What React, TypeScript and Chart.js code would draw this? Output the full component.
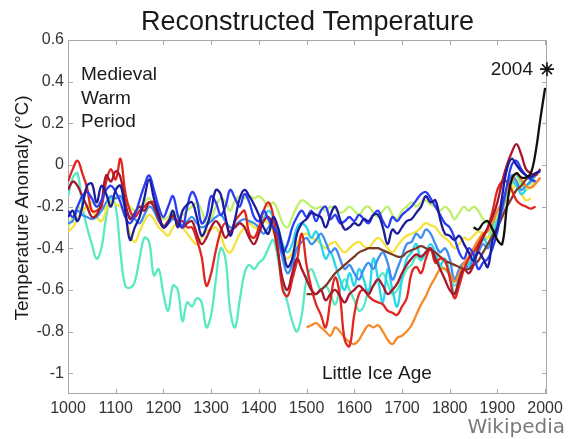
import React, { useEffect, useRef } from "react";
import { Chart, registerables } from "chart.js";

Chart.register(...registerables);

// ---- tick labels ----
const X_TICKS = [1000, 1100, 1200, 1300, 1400, 1500, 1600, 1700, 1800, 1900, 2000];
const Y_TICKS = [0.6, 0.4, 0.2, 0, -0.2, -0.4, -0.6, -0.8, -1];

// ---- series (values every 10 years from the given start year) ----
const NAVY_START = 1000;
const NAVY = [-0.25, -0.22, -0.27, -0.2, -0.1, -0.09, -0.18, -0.1, -0.14, -0.2, -0.12, -0.1, -0.22, -0.36, -0.3, -0.25, -0.16, -0.07, -0.16, -0.24,
  -0.3, -0.28, -0.22, -0.3, -0.22, -0.19, -0.18, -0.25, -0.34, -0.3, -0.22, -0.12, -0.14, -0.25, -0.34, -0.26, -0.16, -0.12, -0.15, -0.19,
  -0.24, -0.3, -0.33, -0.25, -0.3, -0.4, -0.49, -0.45, -0.33, -0.28, -0.26, -0.23, -0.24, -0.25, -0.3, -0.24, -0.2, -0.26, -0.31, -0.3,
  -0.28, -0.29, -0.26, -0.27, -0.24, -0.24, -0.3, -0.38, -0.31, -0.33, -0.3, -0.27, -0.26, -0.23, -0.2, -0.15, -0.18, -0.17, -0.26, -0.33,
  -0.34, -0.36, -0.34, -0.38, -0.42, -0.46, -0.42, -0.45, -0.49, -0.36, -0.3, -0.15, -0.02, 0.03, 0.0, -0.03, -0.05, -0.06, -0.04, -0.03];

const BLUE_START = 1000;
const BLUE = [-0.22, -0.25, -0.2, -0.15, -0.13, -0.16, -0.2, -0.17, -0.12, -0.1, -0.13, -0.18, -0.25, -0.28, -0.24, -0.17, -0.1, -0.05, -0.12, -0.2,
  -0.25, -0.2, -0.15, -0.24, -0.3, -0.2, -0.13, -0.17, -0.28, -0.25, -0.15, -0.18, -0.24, -0.2, -0.12, -0.16, -0.2, -0.14, -0.18, -0.25,
  -0.27, -0.22, -0.26, -0.3, -0.33, -0.42, -0.38, -0.3, -0.25, -0.22, -0.25, -0.22, -0.27, -0.22, -0.2, -0.26, -0.24, -0.28, -0.27, -0.25,
  -0.27, -0.24, -0.26, -0.28, -0.24, -0.22, -0.27, -0.3, -0.25, -0.27, -0.24, -0.22, -0.2, -0.17, -0.14, -0.13, -0.16, -0.2, -0.24, -0.28,
  -0.3, -0.35, -0.42, -0.45, -0.4, -0.43, -0.5, -0.47, -0.45, -0.4, -0.32, -0.2, -0.1, 0.0, 0.02, -0.02, -0.05, -0.07, -0.08];

const LIGHTBLUE_START = 1000;
const LIGHTBLUE = [-0.28, -0.27, -0.22, -0.24, -0.25, -0.26, -0.25, -0.22, -0.18, -0.15, -0.16, -0.15, -0.2, -0.25, -0.26, -0.28, -0.24, -0.2, -0.22, -0.27,
  -0.29, -0.28, -0.26, -0.27, -0.29, -0.27, -0.25, -0.28, -0.3, -0.29, -0.27, -0.25, -0.24, -0.27, -0.3, -0.29, -0.27, -0.26, -0.27, -0.28,
  -0.3, -0.33, -0.3, -0.27, -0.35, -0.45, -0.52, -0.48, -0.4, -0.37, -0.35, -0.38, -0.36, -0.33, -0.37, -0.42, -0.4, -0.45, -0.5, -0.48,
  -0.52, -0.55, -0.5, -0.47, -0.5, -0.45, -0.42, -0.47, -0.55, -0.5, -0.44, -0.38, -0.37, -0.33, -0.35, -0.31, -0.33, -0.38, -0.42, -0.4,
  -0.45, -0.55, -0.5, -0.47, -0.5, -0.45, -0.42, -0.38, -0.4, -0.35, -0.3, -0.22, -0.12, -0.05, -0.08, -0.12, -0.1, -0.08, -0.05, -0.02];

const CYAN_START = 1400;
const CYAN = [-0.3, -0.26, -0.22, -0.25, -0.3, -0.38, -0.42, -0.38, -0.3, -0.28, -0.3, -0.35, -0.32, -0.38, -0.45, -0.42, -0.48, -0.55, -0.6, -0.52,
  -0.58, -0.5, -0.55, -0.62, -0.45, -0.55, -0.66, -0.5, -0.6, -0.68, -0.55, -0.45, -0.42, -0.38, -0.45, -0.42, -0.38, -0.42, -0.48, -0.45,
  -0.52, -0.62, -0.55, -0.5, -0.48, -0.45, -0.4, -0.35, -0.38, -0.33, -0.27, -0.2, -0.12, -0.08, -0.1, -0.14, -0.12];

const TURQUOISE_START = 1000;
const TURQUOISE = [-0.15, -0.06, -0.04, -0.2, -0.3, -0.38, -0.45, -0.4, -0.25, -0.16, -0.2, -0.42, -0.58, -0.59, -0.56, -0.45, -0.35, -0.37, -0.53, -0.5,
  -0.62, -0.7, -0.58, -0.6, -0.75, -0.66, -0.68, -0.64, -0.66, -0.78, -0.72, -0.55, -0.4, -0.45, -0.7, -0.78, -0.65, -0.52, -0.48, -0.5,
  -0.47, -0.45, -0.4, -0.36, -0.45, -0.58, -0.66, -0.75, -0.8, -0.72, -0.55, -0.5, -0.55, -0.6, -0.58, -0.62, -0.67, -0.6, -0.55, -0.6,
  -0.65, -0.7, -0.68, -0.6, -0.58, -0.55, -0.52, -0.57, -0.62, -0.6, -0.55, -0.5, -0.48, -0.44, -0.46, -0.42, -0.4, -0.44, -0.48, -0.5,
  -0.53, -0.58, -0.54, -0.5, -0.47, -0.44, -0.4, -0.36, -0.35, -0.3, -0.25, -0.2, -0.12, -0.06, -0.05, -0.09, -0.1, -0.07, -0.04, -0.03];

const YELLOWGREEN_START = 1000;
const YELLOWGREEN = [-0.3, -0.25, -0.2, -0.22, -0.2, -0.18, -0.2, -0.22, -0.2, -0.18, -0.16, -0.15, -0.17, -0.2, -0.22, -0.2, -0.18, -0.16, -0.2, -0.24,
  -0.26, -0.25, -0.22, -0.25, -0.24, -0.22, -0.2, -0.18, -0.22, -0.28, -0.26, -0.2, -0.16, -0.18, -0.22, -0.17, -0.15, -0.16, -0.15, -0.16,
  -0.15, -0.17, -0.2, -0.18, -0.22, -0.28, -0.3, -0.25, -0.2, -0.17, -0.18, -0.2, -0.21, -0.2, -0.22, -0.2, -0.21, -0.23, -0.22, -0.2,
  -0.22, -0.24, -0.21, -0.2, -0.23, -0.25, -0.22, -0.2, -0.24, -0.26, -0.22, -0.2, -0.18, -0.2, -0.18, -0.17, -0.19, -0.2, -0.22, -0.2,
  -0.22, -0.26, -0.23, -0.2, -0.22, -0.2, -0.22, -0.26, -0.28, -0.27, -0.25, -0.2, -0.14, -0.1, -0.07, -0.1, -0.12, -0.1, -0.07];

const YELLOW_START = 1000;
const YELLOW = [-0.32, -0.3, -0.26, -0.22, -0.2, -0.22, -0.25, -0.27, -0.22, -0.18, -0.19, -0.2, -0.24, -0.33, -0.37, -0.32, -0.27, -0.24, -0.26, -0.3,
  -0.32, -0.34, -0.3, -0.28, -0.3, -0.33, -0.36, -0.38, -0.35, -0.32, -0.31, -0.3, -0.34, -0.4, -0.42, -0.38, -0.33, -0.3, -0.28, -0.3,
  -0.3, -0.27, -0.28, -0.32, -0.38, -0.43, -0.45, -0.42, -0.38, -0.34, -0.33, -0.35, -0.36, -0.38, -0.4, -0.38, -0.37, -0.4, -0.42, -0.4,
  -0.38, -0.37, -0.39, -0.4, -0.37, -0.35, -0.37, -0.4, -0.42, -0.39, -0.36, -0.34, -0.33, -0.32, -0.3, -0.28, -0.29, -0.3, -0.33, -0.35,
  -0.37, -0.4, -0.38, -0.35, -0.36, -0.34, -0.32, -0.33, -0.35, -0.32, -0.28, -0.22, -0.16, -0.12, -0.1, -0.14, -0.17, -0.16];

const ORANGE_START = 1500;
const ORANGE = [-0.78, -0.77, -0.76, -0.78, -0.8, -0.82, -0.78, -0.8, -0.83, -0.85, -0.86, -0.84, -0.8, -0.77, -0.78, -0.77, -0.8, -0.84, -0.86, -0.83,
  -0.82, -0.8, -0.77, -0.72, -0.67, -0.63, -0.58, -0.54, -0.5, -0.5, -0.52, -0.56, -0.52, -0.47, -0.44, -0.4, -0.36, -0.33, -0.32, -0.28,
  -0.22, -0.18, -0.12, -0.08, -0.04, -0.07, -0.1, -0.11, -0.09, -0.06];

const RED_START = 1000;
const RED = [-0.08, -0.02, 0.02, -0.04, -0.11, -0.22, -0.22, -0.2, -0.08, -0.02, -0.07, 0.03, -0.13, -0.22, -0.25, -0.22, -0.2, -0.18, -0.18, -0.23,
  -0.3, -0.27, -0.25, -0.27, -0.27, -0.3, -0.3, -0.36, -0.44, -0.58, -0.52, -0.41, -0.32, -0.28, -0.33, -0.27, -0.24, -0.22, -0.33, -0.35,
  -0.3, -0.22, -0.18, -0.24, -0.4, -0.6, -0.63, -0.55, -0.46, -0.33, -0.48, -0.59, -0.67, -0.72, -0.78, -0.65, -0.54, -0.63, -0.84, -0.87,
  -0.72, -0.62, -0.6, -0.63, -0.65, -0.66, -0.67, -0.7, -0.71, -0.72, -0.68, -0.64, -0.52, -0.49, -0.52, -0.45, -0.4, -0.47, -0.45, -0.46,
  -0.54, -0.64, -0.58, -0.5, -0.45, -0.42, -0.38, -0.34, -0.3, -0.22, -0.12, -0.08, -0.08, -0.12, -0.17, -0.19, -0.2, -0.21, -0.2];

const DARKRED_START = 1000;
const DARKRED = [-0.12, -0.08, -0.1, -0.15, -0.2, -0.25, -0.24, -0.18, -0.05, -0.08, -0.03, -0.06, -0.18, -0.26, -0.23, -0.2, -0.22, -0.18, -0.2, -0.26,
  -0.3, -0.27, -0.24, -0.28, -0.3, -0.28, -0.27, -0.33, -0.38, -0.35, -0.3, -0.27, -0.3, -0.35, -0.32, -0.3, -0.28, -0.3, -0.35, -0.38,
  -0.33, -0.27, -0.25, -0.3, -0.42, -0.55, -0.6, -0.52, -0.45, -0.5, -0.55, -0.6, -0.62, -0.6, -0.65, -0.62, -0.6, -0.63, -0.66, -0.62,
  -0.6, -0.58, -0.6, -0.62, -0.58, -0.55, -0.58, -0.62, -0.6, -0.57, -0.52, -0.48, -0.45, -0.43, -0.44, -0.42, -0.4, -0.45, -0.5, -0.55,
  -0.6, -0.62, -0.55, -0.5, -0.52, -0.48, -0.4, -0.35, -0.3, -0.25, -0.18, -0.08, 0.0, 0.06, 0.1, 0.05, -0.02, -0.04, -0.05, -0.02];

const BROWN_START = 1500;
const BROWN = [-0.62, -0.62, -0.62, -0.6, -0.58, -0.55, -0.52, -0.5, -0.48, -0.46, -0.44, -0.42, -0.41, -0.4, -0.4, -0.4, -0.41, -0.42, -0.43, -0.44,
  -0.44, -0.42, -0.41, -0.4, -0.39, -0.4, -0.41, -0.42, -0.44, -0.46, -0.47, -0.48, -0.49, -0.5, -0.5, -0.48, -0.46, -0.42, -0.38, -0.34,
  -0.3, -0.25, -0.2, -0.16, -0.12, -0.1, -0.07, -0.05, -0.04];

const BLACK_START = 1850;
const BLACK = [-0.3, -0.31, -0.28, -0.27, -0.31, -0.36, -0.38, -0.2, -0.07, -0.04, -0.06, -0.06, -0.04, 0.06, 0.22, 0.37];

const STAR_YEAR = [2004];
const STAR_VALUE = [0.46];

function pairs(start: number, vals: number[]) {
  return vals.map((v, i) => ({ x: start + i * 10, y: v }));
}

const FONT = "'Liberation Sans', Arial, sans-serif";

const decorPlugin = {
  id: "decor",
  beforeDatasetsDraw(chart: any) {
    const { ctx, chartArea: a, scales } = chart;
    ctx.save();
    ctx.strokeStyle = "#a8a8a8";
    ctx.lineWidth = 1;
    ctx.strokeRect(a.left + 0.5, a.top + 0.5, a.right - a.left - 1, a.bottom - a.top - 1);
    ctx.beginPath();
    for (const t of X_TICKS) {
      const x = Math.round(scales.x.getPixelForValue(t)) + 0.5;
      ctx.moveTo(x, a.bottom);
      ctx.lineTo(x, a.bottom - 5);
      ctx.moveTo(x, a.top);
      ctx.lineTo(x, a.top + 5);
    }
    for (const t of Y_TICKS) {
      const y = Math.round(scales.y.getPixelForValue(t)) + 0.5;
      ctx.moveTo(a.left, y);
      ctx.lineTo(a.left + 5, y);
      ctx.moveTo(a.right, y);
      ctx.lineTo(a.right - 5, y);
    }
    ctx.stroke();
    ctx.restore();
  },
  afterDraw(chart: any) {
    const { ctx, chartArea: a } = chart;
    ctx.save();
    ctx.fillStyle = "#1a1a1a";
    ctx.textBaseline = "alphabetic";
    ctx.textAlign = "center";
    ctx.font = `27px ${FONT}`;
    ctx.fillText("Reconstructed Temperature", (a.left + a.right) / 2, 30);

    ctx.font = `19px ${FONT}`;
    ctx.textAlign = "left";
    ctx.fillText("Medieval", 81, 80);
    ctx.fillText("Warm", 81, 104);
    ctx.fillText("Period", 81, 127);
    ctx.fillText("Little Ice Age", 322, 379);
    ctx.textAlign = "right";
    ctx.fillText("2004", 533, 75);

    ctx.save();
    ctx.translate(28, 208);
    ctx.rotate(-Math.PI / 2);
    ctx.textAlign = "center";
    ctx.font = `19px ${FONT}`;
    ctx.fillText("Temperature Anomaly (\u00B0C)", 0, 0);
    ctx.restore();

    ctx.textAlign = "right";
    ctx.fillStyle = "#7a7a7a";
    ctx.font = `20px 'DejaVu Sans', sans-serif`;
    ctx.fillText("Wikipedia", 565, 433);
    ctx.restore();
  },
};

function line(label: string, color: string, data: any[]) {
  return {
    label,
    data,
    borderColor: color,
    backgroundColor: color,
    borderWidth: 2.3,
    pointRadius: 0,
    tension: 0.4,
    fill: false,
  };
}

export default function App() {
  const ref = useRef<HTMLCanvasElement | null>(null);
  useEffect(() => {
    if (!ref.current) return;
    const chart = new Chart(ref.current, {
      type: "line",
      data: {
        datasets: [
          {
            label: "2004",
            data: STAR_YEAR.map((x, i) => ({ x, y: STAR_VALUE[i] })),
            pointStyle: "star",
            pointRadius: 7,
            borderColor: "#111",
            backgroundColor: "#111",
            borderWidth: 1.6,
            showLine: false,
            clip: false,
          } as any,
          line("Instrumental", "#111111", pairs(BLACK_START, BLACK)),
          line("Navy", "#1c1c9c", pairs(NAVY_START, NAVY)),
          line("Blue", "#2a3df2", pairs(BLUE_START, BLUE)),
          line("Dark red", "#a8182c", pairs(DARKRED_START, DARKRED)),
          line("Red", "#e0261e", pairs(RED_START, RED)),
          line("Brown", "#7a3a28", pairs(BROWN_START, BROWN)),
          line("Orange", "#f58a2a", pairs(ORANGE_START, ORANGE)),
          line("Light blue", "#3c8ef0", pairs(LIGHTBLUE_START, LIGHTBLUE)),
          line("Cyan", "#28d6ec", pairs(CYAN_START, CYAN)),
          line("Yellow", "#f5e23a", pairs(YELLOW_START, YELLOW)),
          line("Yellow green", "#bff06a", pairs(YELLOWGREEN_START, YELLOWGREEN)),
          line("Turquoise", "#58eac2", pairs(TURQUOISE_START, TURQUOISE)),
        ],
      },
      options: {
        animation: false,
        responsive: true,
        maintainAspectRatio: false,
        layout: { padding: { left: 0, right: 21, top: 40, bottom: 0 } },
        plugins: { legend: { display: false }, tooltip: { enabled: false }, title: { display: false } },
        scales: {
          x: {
            type: "linear",
            min: 1000,
            max: 2004,
            afterBuildTicks: (s: any) => {
              s.ticks = X_TICKS.map((v) => ({ value: v }));
            },
            afterFit: (s: any) => {
              s.height = 45;
            },
            grid: { display: false, drawTicks: false },
            border: { display: false },
            ticks: {
              padding: 5,
              maxRotation: 0,
              autoSkip: false,
              color: "#333",
              font: { family: FONT, size: 16 },
              callback: (v: any) => String(v),
            },
          },
          y: {
            type: "linear",
            min: -1.1,
            max: 0.6,
            afterBuildTicks: (s: any) => {
              s.ticks = Y_TICKS.map((v) => ({ value: v }));
            },
            afterFit: (s: any) => {
              s.width = 68;
            },
            grid: { display: false, drawTicks: false },
            border: { display: false },
            ticks: {
              padding: 4,
              autoSkip: false,
              color: "#333",
              font: { family: FONT, size: 16 },
              callback: (v: any) => String(Math.round(Number(v) * 10) / 10),
            },
          },
        },
      },
      plugins: [decorPlugin],
    });
    return () => chart.destroy();
  }, []);
  return (
    <div style={{ position: "fixed", left: 0, top: 0, width: 568, height: 439, background: "#fff" }}>
      <canvas ref={ref} />
    </div>
  );
}
